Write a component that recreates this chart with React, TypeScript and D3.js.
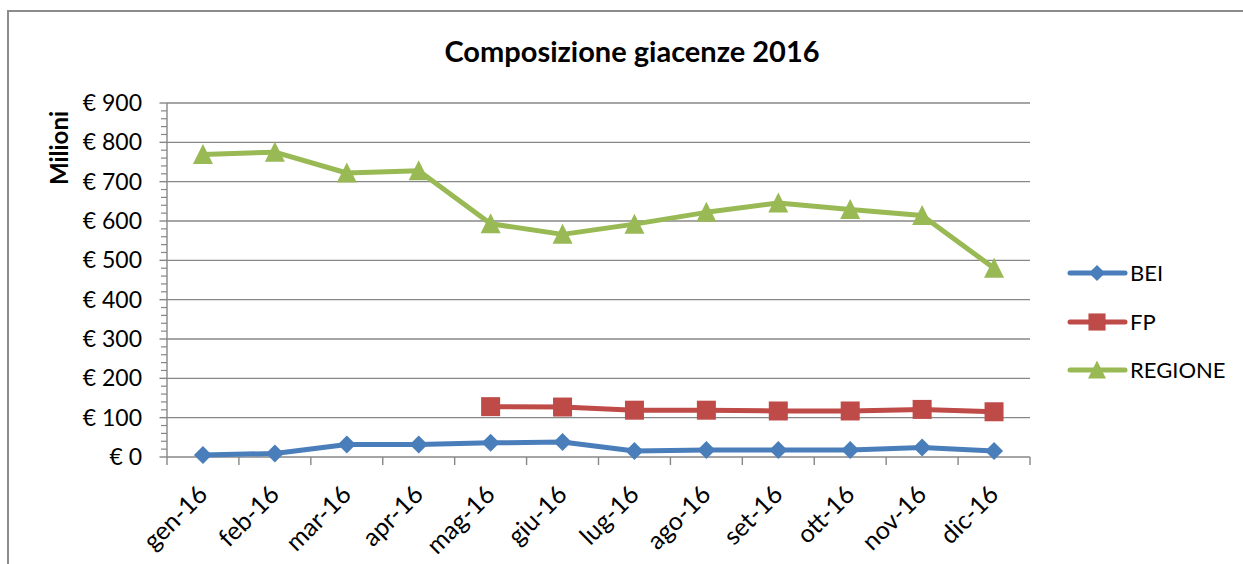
import React from "react";
import * as d3 from "d3";

const categories = ["gen-16","feb-16","mar-16","apr-16","mag-16","giu-16","lug-16","ago-16","set-16","ott-16","nov-16","dic-16"];
const bei = [5, 9, 32, 32, 36, 38, 15, 18, 18, 18, 24, 15];
const fp: (number | null)[] = [null, null, null, null, 128, 127, 119, 119, 117, 117, 121, 115];
const regione = [769, 775, 722, 728, 593, 566, 592, 622, 646, 629, 614, 480];
const yTicks = [0, 100, 200, 300, 400, 500, 600, 700, 800, 900];
const title = "Composizione giacenze 2016";
const yTitle = "Milioni";

const series = [
  { name: "BEI", values: bei as (number | null)[], color: "#4A7EBB", marker: "diamond" },
  { name: "FP", values: fp, color: "#BE4B48", marker: "square" },
  { name: "REGIONE", values: regione as (number | null)[], color: "#98B954", marker: "triangle" },
];

const W = 1243, H = 564;
const FONT = "Lato, 'Open Sans', sans-serif";
const GRID = "#878787";

function Marker({ type, x, y, color, s = 1 }: { type: string; x: number; y: number; color: string; s?: number }) {
  if (type === "diamond") {
    const r = 9 * s;
    return <path d={`M${x},${y - r}L${x + r},${y}L${x},${y + r}L${x - r},${y}Z`} fill={color} />;
  }
  if (type === "square") {
    const r = 9.5 * s;
    return <rect x={x - r} y={y - r} width={2 * r} height={2 * r} fill={color} />;
  }
  const r = 10 * s;
  return <path d={`M${x},${y - r * 1.05}L${x + r},${y + r * 0.95}L${x - r},${y + r * 0.95}Z`} fill={color} />;
}

export default function App() {
  const x0 = 167, x1 = 1030;
  const y = d3.scaleLinear().domain([0, 900]).range([457, 103]);
  const xb = d3.scaleBand<string>().domain(categories).range([x0, x1]);
  const cx = (c: string) => (xb(c) as number) + xb.bandwidth() / 2;
  const line = d3.line<{ c: string; v: number | null }>()
    .defined((d) => d.v !== null)
    .x((d) => cx(d.c))
    .y((d) => y(d.v as number));
  const minor = d3.range(0, 901, 20);
  const bounds = d3.range(0, 13).map((i) => x0 + i * xb.bandwidth());

  const legendY = [273, 322, 370];

  return (
    <svg width={W} height={H} style={{ position: "absolute", left: 0, top: 0, background: "#fff" }} fontFamily={FONT}>
      <rect x={0} y={0} width={W} height={H} fill="#fff" />
      <path d={`M8,${H}V11H${W}`} fill="none" stroke="#8c8c8c" strokeWidth={2} />
      <text x={632} y={62} textAnchor="middle" fontSize={29} fontWeight="bold" fill="#000">{title}</text>
      <text transform={`translate(68,148) rotate(-90)`} textAnchor="middle" fontSize={24} fontWeight="bold" fill="#000">{yTitle}</text>

      {yTicks.map((t) => (
        <g key={t}>
          <line x1={x0} x2={x1} y1={y(t)} y2={y(t)} stroke={GRID} strokeWidth={1.4} />
          <line x1={159.5} x2={x0} y1={y(t)} y2={y(t)} stroke={GRID} strokeWidth={1.4} />
          <text x={142} y={y(t) + 8} textAnchor="end" fontSize={23} fill="#000">{`€ ${t}`}</text>
        </g>
      ))}
      {minor.filter((m) => m % 100 !== 0).map((m) => (
        <line key={m} x1={161} x2={x0} y1={y(m)} y2={y(m)} stroke={GRID} strokeWidth={1.2} />
      ))}
      <line x1={x0} x2={x0} y1={103} y2={457} stroke={GRID} strokeWidth={1.4} />
      {bounds.map((b, i) => (
        <line key={i} x1={b} x2={b} y1={457} y2={465} stroke={GRID} strokeWidth={1.4} />
      ))}
      {categories.map((c) => (
        <text key={c} transform={`translate(${cx(c) + 6},${496}) rotate(-45)`} textAnchor="end" fontSize={25} fill="#000">{c}</text>
      ))}

      {series.map((s) => {
        const pts = categories.map((c, i) => ({ c, v: s.values[i] }));
        return (
          <g key={s.name}>
            <path d={line(pts) as string} fill="none" stroke={s.color} strokeWidth={5} strokeLinejoin="round" strokeLinecap="round" />
            {pts.filter((p) => p.v !== null).map((p) => (
              <Marker key={p.c} type={s.marker} x={cx(p.c)} y={y(p.v as number)} color={s.color} />
            ))}
          </g>
        );
      })}

      {series.map((s, i) => (
        <g key={s.name}>
          <line x1={1070} x2={1125} y1={legendY[i]} y2={legendY[i]} stroke={s.color} strokeWidth={5} strokeLinecap="round" />
          <Marker type={s.marker} x={1097} y={legendY[i]} color={s.color} s={0.9} />
          <text x={1130} y={legendY[i] + 8} fontSize={22} fill="#000">{s.name}</text>
        </g>
      ))}
    </svg>
  );
}
